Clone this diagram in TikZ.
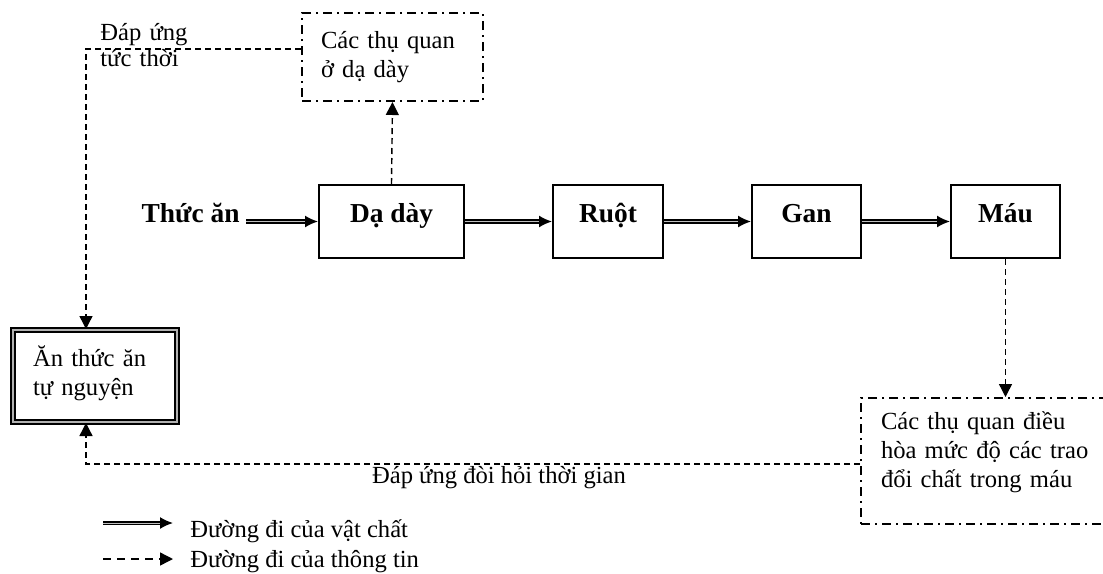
\documentclass[tikz,border=0pt]{standalone}
\usepackage{fontspec}
\setmainfont{Liberation Serif}
\usetikzlibrary{arrows.meta}
\tikzset{%
    organ/.style={draw=black,line width=1pt,inner sep=0pt,text height=18.5pt,text depth=18pt,
        font=\fontsize{13.7}{16}\bfseries\selectfont},
    recv/.style={draw=black,line width=1pt,dash pattern=on 4.5pt off 2.5pt on 1pt off 2.5pt,
        align=left,inner xsep=9.5pt,inner ysep=0pt},
    choice/.style={draw=black,line width=1pt,double=gray!60,double distance=0.6pt,
        align=left,inner xsep=10pt,inner ysep=0pt},
    matter/.style={draw=black,line width=0.8pt,double=gray!50,double distance=0.5pt,
        -{Latex[length=6.5pt,width=6pt]}},
    info/.style={line width=0.7pt,dash pattern=on 3pt off 2pt,-{Triangle[length=6.5pt,width=6.5pt]}}
}

\begin{document}
\begin{tikzpicture}[x=0.5pt,y=-0.5pt,font=\fontsize{12.3}{14.5}\selectfont]
    \useasboundingbox (0,0) rectangle (1103,573);
    \clip (0,0) rectangle (1103,573);

    % main chain
    \node[font=\fontsize{13.7}{16}\bfseries\selectfont,anchor=base east,inner sep=3pt] (food) at (246,222) {Thức ăn};
    \node[organ,minimum width=72.5pt] (stomach) at (391.5,221.5) {Dạ dày};
    \node[organ,minimum width=55pt] (intestine) at (608,221.5) {Ruột};
    \node[organ,minimum width=54.5pt] (liver) at (806.5,221.5) {Gan};
    \node[organ,minimum width=54.5pt] (blood) at (1005.5,221.5) {Máu};

    % receptors and intake
    \node[recv,text width=71.5pt,text height=17.5pt,text depth=26.5pt,anchor=north west] (sensor) at (301,12)
        {Các thụ quan\\ở dạ dày};
    \node[recv,text width=110pt,text height=15.5pt,text depth=47.5pt,inner xsep=10pt,anchor=north west] (regulator) at (860,397)
        {Các thụ quan điều\\hòa mức độ các trao\\đổi chất trong máu};
    \node[choice,text width=62pt,text height=18pt,text depth=28pt,anchor=north west] (intake) at (12,329)
        {Ăn thức ăn\\tự nguyện};

    \draw[matter] (food.east |- stomach.west) -- (stomach.west);
    \draw[matter] (stomach.east) -- (intestine.west);
    \draw[matter] (intestine.east) -- (liver.west);
    \draw[matter] (liver.east) -- (blood.west);

    \draw[info] (stomach.north) -- (sensor.south);
    \draw[info] ([yshift=4pt]sensor.west) -| ([xshift=-4.5pt]intake.north);
    \draw[info] (blood.south) -- (blood.south |- regulator.north);
    \draw[info] ([yshift=-1.5pt]regulator.west) -| ([xshift=-4.5pt]intake.south);

    \node[anchor=base west,inner sep=0pt,text width=50pt,align=left,font=\fontsize{12.3}{13}\selectfont] (quick) at (100,40)
        {Đáp ứng\\tức thời};
    \node[anchor=base,inner sep=0pt] (slow) at (499,483) {Đáp ứng đòi hỏi thời gian};

    % legend
    \coordinate (lg1) at (103,523);
    \node[anchor=base west,inner xsep=8.5pt,inner ysep=0pt] (lgmatter) at (173,537) {Đường đi của vật chất};
    \draw[matter] (lg1) -- (lg1 -| lgmatter.west);
    \coordinate (lg2) at (103,559);
    \node[anchor=base west,inner xsep=8.5pt,inner ysep=0pt] (lginfo) at (173,567) {Đường đi của thông tin};
    \draw[info,dash pattern=on 4pt off 3pt] (lg2) -- (lg2 -| lginfo.west);
\end{tikzpicture}
\end{document}
